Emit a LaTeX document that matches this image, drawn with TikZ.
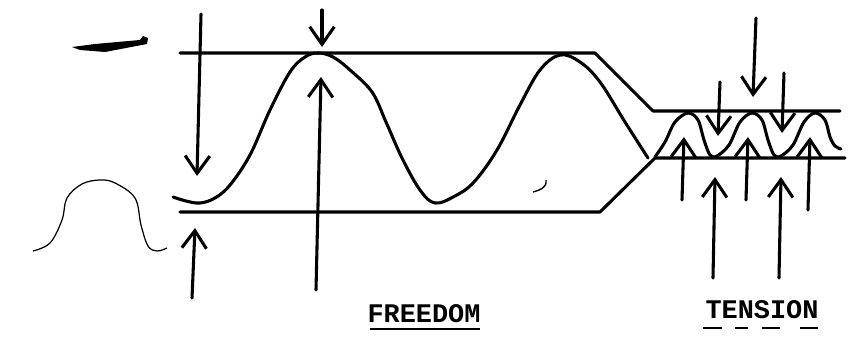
\documentclass[tikz,border=0pt]{standalone}
\usepackage{fontspec}
\setmonofont{Liberation Mono}
\usetikzlibrary{arrows.meta}
\begin{document}
\begin{tikzpicture}[x=0.02cm,y=-0.02cm,
  ink/.style={line width=1.75pt, line cap=round, line join=round},
  force/.style={ink, -{Straight Barb[length=10pt,width=14pt,line width=1.75pt]}},
  label/.style={font=\fontsize{15.3}{18}\selectfont\ttfamily\bfseries, anchor=base, inner sep=0pt},
  uline/.style={line width=1pt}]
\useasboundingbox (0,0) rectangle (867,338);
% envelope lines
\coordinate (tl) at (180,53);
\coordinate (tr) at (595,53);
\coordinate (tt) at (653,111);
\coordinate (te) at (840,111);
\coordinate (bl) at (180,212);
\coordinate (br) at (600,212);
\coordinate (bt) at (655,158);
\coordinate (be) at (845,158);
\draw[ink] (tl) -- (tr) -- (tt) -- (te);
\draw[ink] (bl) -- (br) -- (bt) -- (be);
% main wave
\draw[ink] plot[smooth, tension=0.6] coordinates {(173,197) (186,201) (200,203) (215,198) (230,185) (250,155) (270,110) (290,72) (305,57) (318,53) (333,57) (350,70) (372,92) (386,122) (402,158) (420,190) (435,203) (455,196) (474,182) (497,150) (520,105) (540,70) (560,55) (580,62) (600,82) (625,122) (648,158)};
% tension wave
\draw[ink] plot[smooth, tension=0.55] coordinates {(655,157) (665,142) (675,122) (688,113) (698,120) (704,140) (710,155) (717,156) (729,145) (740,122) (752,113) (762,120) (768,140) (774,155) (781,156) (793,145) (804,122) (815,113) (825,120) (830,137) (835,146) (841,149)};
% freedom arrows
\coordinate (a1s) at (201,14);  \coordinate (a1e) at (197,176);
\coordinate (a2s) at (192,298); \coordinate (a2e) at (195,228);
\coordinate (a3s) at (322,10);  \coordinate (a3e) at (322,47);
\coordinate (a4s) at (316,290); \coordinate (a4e) at (321,77);
\draw[force] (a1s) -- (a1e);
\draw[force] (a2s) -- (a2e);
\draw[force] (a3s) -- (a3e);
\draw[force] (a4s) -- (a4e);
% tension arrows
\coordinate (b1s) at (756,18);  \coordinate (b1e) at (753,97);
\coordinate (b2s) at (720,82);  \coordinate (b2e) at (718,136);
\coordinate (b3s) at (784,73);  \coordinate (b3e) at (782,133);
\coordinate (c1s) at (682,200); \coordinate (c1e) at (684,137);
\coordinate (c2s) at (746,200); \coordinate (c2e) at (748,137);
\coordinate (c3s) at (808,210); \coordinate (c3e) at (810,137);
\coordinate (d1s) at (713,278); \coordinate (d1e) at (715,177);
\coordinate (d2s) at (779,278); \coordinate (d2e) at (781,177);
\foreach \p in {b1,b2,b3,c1,c2,c3,d1,d2} \draw[force] (\p s) -- (\p e);
% labels
\node[label] (free) at (424,322) {FREEDOM};
\node[label] (tens) at (762,318) {TENSION};
\draw[uline] (370,329) -- (480,329);
\draw[uline] (703,328) -- (722,328);
\draw[uline] (735,328) -- (748,328);
\draw[uline] (762,328) -- (780,328);
\draw[uline] (800,328) -- (818,328);
% stray hand marks
\draw[line width=0.7pt] plot[smooth, tension=0.6] coordinates {(33,251) (50,243) (62,220) (67,198) (82,184) (100,180) (115,183) (135,198) (141,225) (148,246) (157,251) (167,248)};
\fill (72,47) -- (95,44) -- (140,40) -- (143,36) -- (148,38) -- (147,44) -- (105,52) -- (80,50) -- cycle;
\draw[line width=0.8pt] (533,192) .. controls (540,190) and (547,188) .. (546,180);
\end{tikzpicture}
\end{document}
